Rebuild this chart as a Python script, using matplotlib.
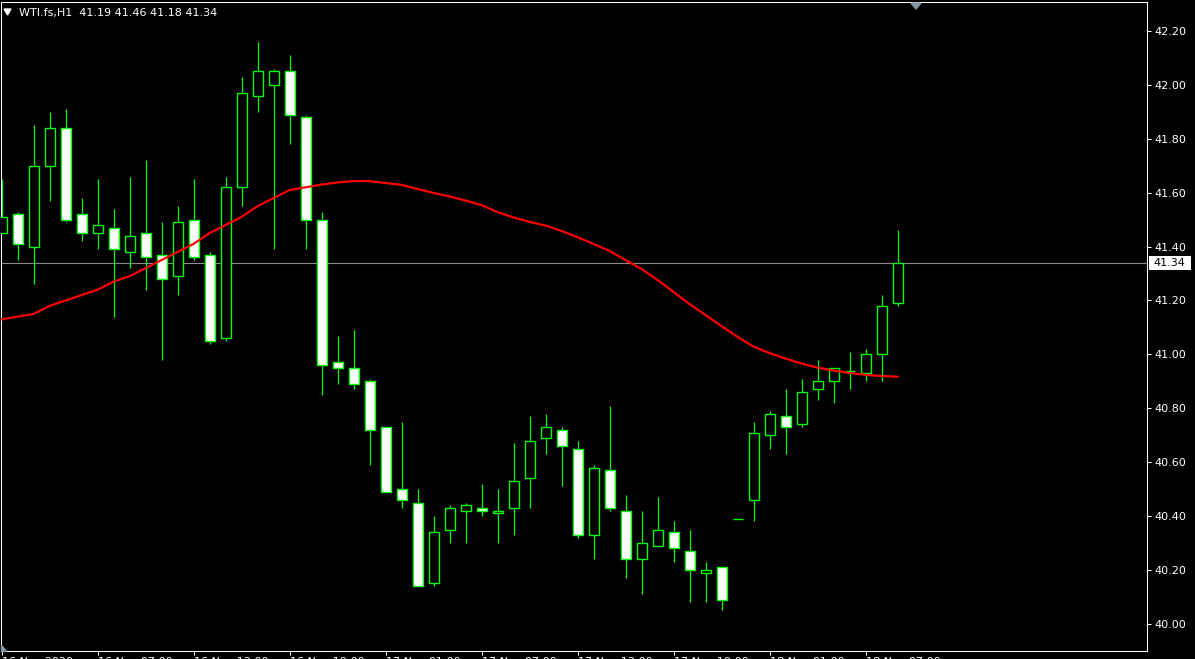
import numpy as np
import matplotlib
matplotlib.use('Agg')
import matplotlib.pyplot as plt
from matplotlib.patches import Polygon, Rectangle
from matplotlib import transforms

# WTI H1 candles
symbol = 'WTI.fs,H1'
opens = [41.45, 41.52, 41.40, 41.70, 41.84, 41.52, 41.45, 41.47, 41.38, 41.45,
         41.37, 41.29, 41.50, 41.37, 41.06, 41.62, 41.96, 42.00, 42.05, 41.88,
         41.50, 40.97, 40.95, 40.90, 40.73, 40.50, 40.45, 40.15, 40.35, 40.42,
         40.43, 40.41, 40.43, 40.54, 40.69, 40.72, 40.65, 40.33, 40.57, 40.42,
         40.24, 40.29, 40.34, 40.27, 40.19, 40.21, 40.39, 40.46, 40.70, 40.77,
         40.74, 40.87, 40.90, 40.94, 40.93, 41.00, 41.19]
highs = [41.65, 41.53, 41.85, 41.90, 41.91, 41.58, 41.65, 41.54, 41.66, 41.72,
         41.49, 41.55, 41.65, 41.38, 41.66, 42.03, 42.16, 42.06, 42.11, 41.89,
         41.53, 41.07, 41.09, 40.91, 40.73, 40.75, 40.50, 40.40, 40.44, 40.45,
         40.52, 40.50, 40.67, 40.77, 40.78, 40.73, 40.68, 40.59, 40.81, 40.48,
         40.42, 40.47, 40.38, 40.35, 40.23, 40.21, 40.39, 40.75, 40.79, 40.87,
         40.91, 40.98, 40.95, 41.01, 41.02, 41.22, 41.46]
lows = [41.45, 41.35, 41.26, 41.57, 41.49, 41.42, 41.39, 41.14, 41.32, 41.24,
        40.98, 41.22, 41.35, 41.04, 41.05, 41.55, 41.90, 41.39, 41.78, 41.39,
        40.85, 40.89, 40.87, 40.59, 40.49, 40.43, 40.14, 40.14, 40.30, 40.30,
        40.40, 40.30, 40.33, 40.43, 40.63, 40.51, 40.32, 40.24, 40.42, 40.17,
        40.11, 40.29, 40.23, 40.08, 40.08, 40.05, 40.39, 40.38, 40.65, 40.63,
        40.73, 40.83, 40.82, 40.87, 40.90, 40.90, 41.18]
closes = [41.51, 41.41, 41.70, 41.84, 41.50, 41.45, 41.48, 41.39, 41.44, 41.36,
          41.28, 41.49, 41.36, 41.05, 41.62, 41.97, 42.05, 42.05, 41.89, 41.50,
          40.96, 40.95, 40.89, 40.72, 40.49, 40.46, 40.14, 40.34, 40.43, 40.44,
          40.42, 40.42, 40.53, 40.68, 40.73, 40.66, 40.33, 40.58, 40.43, 40.24,
          40.30, 40.35, 40.28, 40.20, 40.20, 40.09, 40.39, 40.71, 40.78, 40.73,
          40.86, 40.90, 40.95, 40.94, 41.00, 41.18, 41.34]
# moving average (red line)
ma = [41.13, 41.14, 41.15, 41.18, 41.20, 41.22, 41.24, 41.27, 41.29, 41.32,
      41.35, 41.38, 41.41, 41.45, 41.48, 41.51, 41.55, 41.58, 41.61, 41.62,
      41.63, 41.638, 41.643, 41.643, 41.636, 41.629, 41.614, 41.599, 41.586, 41.571,
      41.554, 41.528, 41.508, 41.492, 41.478, 41.458, 41.435, 41.410, 41.384, 41.350,
      41.317, 41.276, 41.232, 41.187, 41.146, 41.105, 41.065, 41.029, 41.005, 40.985,
      40.966, 40.951, 40.940, 40.931, 40.924, 40.920, 40.917]
price_ticks = [40.00, 40.20, 40.40, 40.60, 40.80, 41.00, 41.20, 41.40, 41.60, 41.80, 42.00, 42.20]
time_labels = ['16 Nov 2020', '16 Nov 07:00', '16 Nov 13:00', '16 Nov 19:00', '17 Nov 01:00',
               '17 Nov 07:00', '17 Nov 13:00', '17 Nov 19:00', '18 Nov 01:00', '18 Nov 07:00']

W, H = 1195, 659
green = '#00ff00'
plt.rcParams['font.family'] = ['DejaVu Sans']


def fx(px):
    return px / W


def fy(py):
    return 1 - py / H


fig = plt.figure(figsize=(W / 100, H / 100), dpi=100, facecolor='black')
ax = fig.add_axes([fx(1), fy(651), fx(1147) - fx(1), fy(2) - fy(651)])
ax.set_facecolor('black')

o = np.array(opens)
h = np.array(highs)
l = np.array(lows)
c = np.array(closes)
x = np.arange(len(o))
up = c >= o

ax.vlines(x, l, h, color=green, lw=0.9, zorder=2)
ax.bar(x, c - o, bottom=o, width=0.625, color=np.where(up, 'black', 'white'),
       edgecolor=green, linewidth=1.0, zorder=3)
ax.plot(x, ma, color='#ff0000', lw=1.6, zorder=4)

# bid line
ax.axhline(c[-1], color='#8c8c8c', lw=0.8, zorder=1)

# 16 px per bar, 269.5 px per 1.00 of price
ax.set_xlim(-0.5 / 16, (1147 - 1.5) / 16)
ax.set_ylim(42.20 - (651 - 31) / 269.5, 42.20 + (31 - 2) / 269.5)

ax.yaxis.tick_right()
ax.set_yticks(price_ticks)
ax.set_yticklabels([f'{v:.2f}' for v in price_ticks])
ax.tick_params(axis='y', colors='white', length=3, width=0.75, pad=2, labelsize=8)

ax.set_xticks(range(0, len(o), 6))
ax.set_xticklabels(time_labels)
ax.tick_params(axis='x', colors='white', length=3, width=0.75, pad=1, labelsize=8)
for lab in ax.get_xticklabels():
    lab.set_ha('left')

for s in ax.spines.values():
    s.set_color('white')
    s.set_linewidth(0.75)

# current price label on the scale
trans = transforms.blended_transform_factory(fig.transFigure, ax.transData)
ax.add_patch(Rectangle((fx(1149), c[-1] - 0.026), fx(1191) - fx(1149), 0.052,
                       transform=trans, facecolor='white', edgecolor='none', clip_on=False, zorder=5))
ax.text(fx(1153), c[-1], f'{c[-1]:.2f}', transform=trans, color='black', va='center',
        ha='left', fontsize=8, clip_on=False, zorder=6)

# header
fig.text(fx(19), fy(13), f'{symbol}  {o[-1]:.2f} {h[-1]:.2f} {l[-1]:.2f} {c[-1]:.2f}',
         color='white', fontsize=8, va='center', ha='left')
fig.add_artist(Polygon([(fx(4), fy(9)), (fx(11), fy(9)), (fx(7.5), fy(15))],
                       closed=True, transform=fig.transFigure, color='white'))
# chart shift markers
fig.add_artist(Polygon([(fx(911), fy(3)), (fx(921), fy(3)), (fx(916), fy(9))],
                       closed=True, transform=fig.transFigure, color='#8a95a0'))
fig.add_artist(Polygon([(fx(1), fy(645)), (fx(1), fy(651)), (fx(6), fy(651))],
                       closed=True, transform=fig.transFigure, color='#8a95a0'))

fig.savefig('out.png', dpi=100, facecolor='black')
